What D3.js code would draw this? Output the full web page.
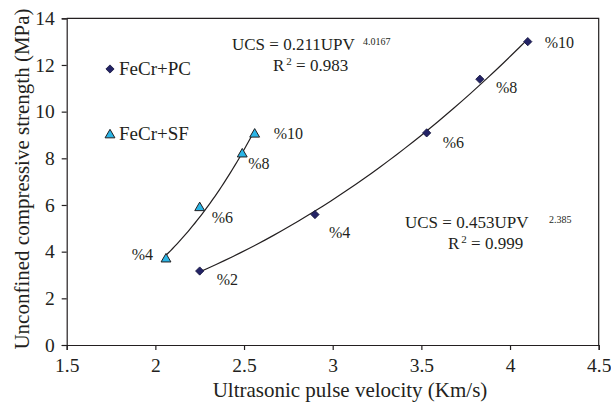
<!DOCTYPE html>
<html>
<head>
<meta charset="utf-8">
<script src="https://cdn.jsdelivr.net/npm/d3@7"></script>
<style>
  body { margin: 0; background: #fff; }
  svg text { font-family: "Liberation Serif", "Times New Roman", serif; fill: #231f20; }
</style>
</head>
<body>
<svg id="chart" width="611" height="405"></svg>
<script>
// Data
const pcX = [2.25, 2.90, 3.53, 3.83, 4.10];
const pcY = [3.17, 5.59, 9.09, 11.39, 13.0];
const pcLabels = ['%2', '%4', '%6', '%8', '%10'];

const sfX = [2.06, 2.25, 2.49, 2.56];
const sfY = [3.68, 5.88, 8.18, 9.03];
const sfLabels = ['%4', '%6', '%8', '%10'];

// power trendlines: UCS = a * UPV^b
const pcFit = [0.453, 2.385];
const sfFit = [0.211, 4.0167];

const xTicks = [1.5, 2, 2.5, 3, 3.5, 4, 4.5];
const yTicks = [0, 2, 4, 6, 8, 10, 12, 14];

// label offsets (pixels) next to each point
const pcOffsets = [[17, 14, 'start'], [14, 23, 'start'], [16, 15, 'start'], [16, 14, 'start'], [17, 6, 'start']];
const sfOffsets = [[-13, 1, 'end'], [12, 15, 'start'], [6, 15, 'start'], [19, 5, 'start']];

const width = 611, height = 405;
const margin = { top: 18.3, right: 12.3, bottom: 60, left: 66.7 };
const ink = '#231f20';

const svg = d3.select('#chart');

const x = d3.scaleLinear().domain([1.5, 4.5]).range([margin.left, width - margin.right]);
const y = d3.scaleLinear().domain([0, 14]).range([height - margin.bottom, margin.top]);

// frame (top and right)
svg.append('path')
    .attr('d', `M${x(1.5)},${y(14)}H${x(4.5)}V${y(0)}`)
    .attr('fill', 'none')
    .attr('stroke', ink)
    .attr('stroke-width', 1.2);

// axes
const xAxis = svg.append('g')
    .attr('transform', `translate(0,${y(0)})`)
    .call(d3.axisBottom(x).tickValues(xTicks).tickFormat(d3.format('')).tickSize(5).tickPadding(8));

const yAxis = svg.append('g')
    .attr('transform', `translate(${x(1.5)},0)`)
    .call(d3.axisLeft(y).tickValues(yTicks).tickSize(5).tickPadding(7));

[xAxis, yAxis].forEach(a => {
    a.select('.domain').attr('stroke', ink).attr('stroke-width', 1.2);
    a.selectAll('line').attr('stroke', ink).attr('stroke-width', 1.2);
    a.selectAll('text').attr('font-size', 19.5).attr('fill', ink).style('font-family', null);
});

// axis titles
svg.append('text')
    .attr('x', 350)
    .attr('y', 397)
    .attr('text-anchor', 'middle')
    .attr('font-size', 21)
    .text('Ultrasonic pulse velocity (Km/s)');

svg.append('text')
    .attr('transform', 'translate(29,179) rotate(-90)')
    .attr('text-anchor', 'middle')
    .attr('font-size', 21)
    .text('Unconfined compressive strength (MPa)');

// trendlines
function trend(fit, xs) {
    const lo = d3.min(xs), hi = d3.max(xs);
    const pts = d3.range(0, 41).map(i => lo + (hi - lo) * i / 40);
    return pts.map(v => [v, fit[0] * Math.pow(v, fit[1])]);
}

const line = d3.line().x(d => x(d[0])).y(d => y(d[1]));

svg.append('path')
    .datum(trend(pcFit, pcX))
    .attr('d', line)
    .attr('fill', 'none')
    .attr('stroke', ink)
    .attr('stroke-width', 1.2);

svg.append('path')
    .datum(trend(sfFit, sfX))
    .attr('d', line)
    .attr('fill', 'none')
    .attr('stroke', ink)
    .attr('stroke-width', 1.2);

// markers
const diamond = d3.symbol().type(d3.symbolSquare).size(34);
const triangle = d3.symbol().type(d3.symbolTriangle).size(42);

const pcData = pcX.map((v, i) => ({ x: v, y: pcY[i], label: pcLabels[i], off: pcOffsets[i] }));
const sfData = sfX.map((v, i) => ({ x: v, y: sfY[i], label: sfLabels[i], off: sfOffsets[i] }));

svg.append('g').selectAll('path')
    .data(pcData)
    .enter().append('path')
    .attr('d', diamond)
    .attr('transform', d => `translate(${x(d.x)},${y(d.y)}) rotate(45)`)
    .attr('fill', '#232366')
    .attr('stroke', '#15153f')
    .attr('stroke-width', 0.8);

svg.append('g').selectAll('path')
    .data(sfData)
    .enter().append('path')
    .attr('d', triangle)
    .attr('transform', d => `translate(${x(d.x)},${y(d.y)})`)
    .attr('fill', '#2bb5e6')
    .attr('stroke', ink)
    .attr('stroke-width', 1);

// point labels
svg.append('g').selectAll('text')
    .data(pcData.concat(sfData))
    .enter().append('text')
    .attr('x', d => x(d.x) + d.off[0])
    .attr('y', d => y(d.y) + d.off[1])
    .attr('text-anchor', d => d.off[2])
    .attr('font-size', 16)
    .text(d => d.label);

// legend
const legend = svg.append('g');
legend.append('path')
    .attr('d', diamond)
    .attr('transform', 'translate(110,69) rotate(45)')
    .attr('fill', '#232366')
    .attr('stroke', '#15153f')
    .attr('stroke-width', 0.8);
legend.append('text')
    .attr('x', 119).attr('y', 75)
    .attr('font-size', 19)
    .text('FeCr+PC');
legend.append('path')
    .attr('d', triangle)
    .attr('transform', 'translate(110,135)')
    .attr('fill', '#2bb5e6')
    .attr('stroke', ink)
    .attr('stroke-width', 1);
legend.append('text')
    .attr('x', 119).attr('y', 140)
    .attr('font-size', 19)
    .text('FeCr+SF');

// equations
function equation(xStart, yBase, main, exp, expX, r2, r2X) {
    svg.append('text')
        .attr('x', xStart).attr('y', yBase)
        .attr('font-size', 17)
        .text(main);
    svg.append('text')
        .attr('x', expX).attr('y', yBase - 5)
        .attr('font-size', 10)
        .text(exp);
    const t = svg.append('text')
        .attr('x', r2X).attr('y', yBase + 21)
        .attr('font-size', 17);
    t.append('tspan').text('R');
    t.append('tspan').attr('font-size', 11).attr('dy', -6).attr('dx', 2).text('2');
    t.append('tspan').attr('dy', 6).text(' = ' + r2);
}

equation(232, 50, 'UCS = 0.211UPV', '4.0167', 363, '0.983', 273);
equation(405, 228, 'UCS = 0.453UPV', '2.385', 549, '0.999', 448);
</script>
</body>
</html>
